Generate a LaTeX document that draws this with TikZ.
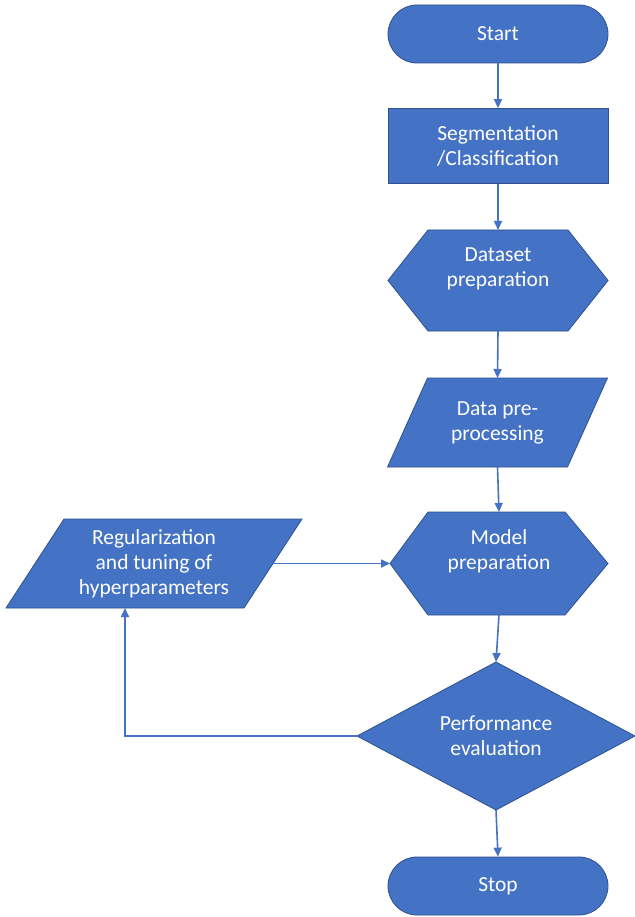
\documentclass[tikz,border=0pt]{standalone}
\usepackage{fontspec}
\setmainfont{Carlito}
\usetikzlibrary{arrows.meta,shapes.misc}
\definecolor{boxblue}{HTML}{4472C4}
\definecolor{edgeblue}{HTML}{2F528F}
\begin{document}
\begin{tikzpicture}[x=1pt,y=-1pt,
  frame/.style={draw=none,inner sep=0pt,outer sep=0pt},
  fillshape/.style={fill=boxblue,draw=edgeblue,line width=0.8pt},
  lbl/.style={text=white,align=center,font=\fontsize{21.5}{25}\selectfont,inner sep=0pt},
  arr/.style={draw=boxblue,line width=1.6pt,-{Triangle[length=9pt,width=8pt]}}]
\useasboundingbox[fill=white] (0,0) rectangle (634,917);

% terminals and process box
\node[rounded rectangle,fillshape,lbl,minimum width=220pt,minimum height=58pt] (start) at (498,34) {Start};
\node[rectangle,fillshape,lbl,minimum width=220pt,minimum height=75pt] (seg) at (498,146) {Segmentation\\/Classification};
\node[rounded rectangle,fillshape,lbl,minimum width=220pt,minimum height=58pt] (stop) at (498,886) {Stop};

% dataset preparation (hexagon)
\node[frame,minimum width=220pt,minimum height=101pt] (data) at (498,280.5) {};
\draw[fillshape] (data.west) -- ([xshift=40pt]data.north west) -- ([xshift=-40pt]data.north east)
  -- (data.east) -- ([xshift=-40pt]data.south east) -- ([xshift=40pt]data.south west) -- cycle;
\node[lbl] (dataT) at ([yshift=12pt]data.center) {Dataset\\preparation};

% data pre-processing (parallelogram)
\node[frame,minimum width=220pt,minimum height=89pt] (pre) at (497.5,422.5) {};
\draw[fillshape] ([xshift=40pt]pre.north west) -- (pre.north east)
  -- ([xshift=-40pt]pre.south east) -- (pre.south west) -- cycle;
\node[lbl] (preT) at (pre.center) {Data pre-\\processing};

% model preparation (hexagon)
\node[frame,minimum width=218pt,minimum height=103pt] (model) at (499,563.5) {};
\draw[fillshape] (model.west) -- ([xshift=38pt]model.north west) -- ([xshift=-43pt]model.north east)
  -- (model.east) -- ([xshift=-43pt]model.south east) -- ([xshift=38pt]model.south west) -- cycle;
\node[lbl] (modelT) at ([yshift=12pt]model.center) {Model\\preparation};

% performance evaluation (decision)
\node[frame,minimum width=278pt,minimum height=148pt] (perf) at (496,736) {};
\draw[fillshape] (perf.north) -- (perf.east) -- (perf.south) -- (perf.west) -- cycle;
\node[lbl] (perfT) at (perf.center) {Performance\\evaluation};

% regularization (parallelogram)
\node[frame,minimum width=296pt,minimum height=89pt] (reg) at (154,563.5) {};
\draw[fillshape] ([xshift=58pt]reg.north west) -- (reg.north east)
  -- ([xshift=-58pt]reg.south east) -- (reg.south west) -- cycle;
\node[lbl] (regT) at (reg.center) {Regularization\\and tuning of\\hyperparameters};

% connectors
\draw[arr] (start.south) -- (seg.north);
\draw[arr] (seg.south) -- (data.north);
\draw[arr] (data.south) -- (pre.north);
\draw[arr] (pre.south) -- (model.north);
\draw[arr] (model.south) -- (perf.north);
\draw[arr] (perf.south) -- (stop.north);
\draw[arr] ([xshift=-29pt]reg.east) -- (model.west);
\draw[arr] (perf.west) -| ([xshift=-29pt]reg.south);
\end{tikzpicture}
\end{document}
